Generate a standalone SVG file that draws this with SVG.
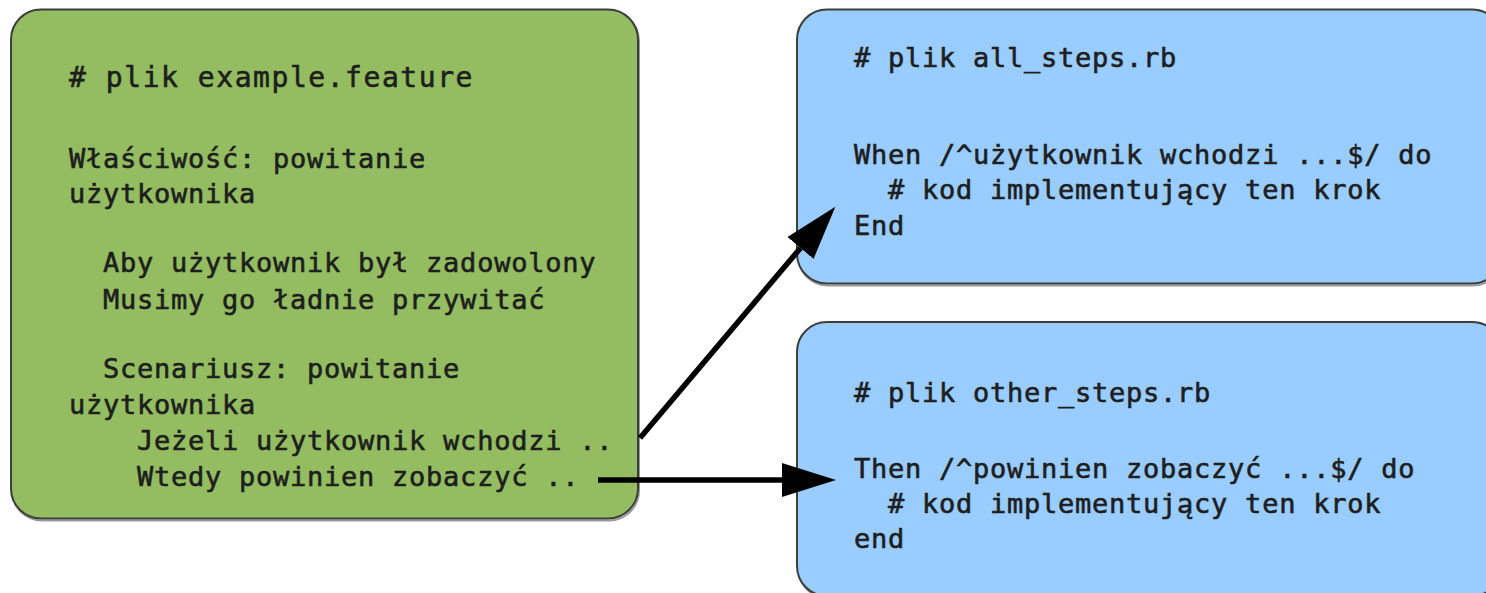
<svg xmlns="http://www.w3.org/2000/svg" width="1486" height="593" viewBox="0 0 1486 593">
  <style>
    .box { stroke: #3b3f3a; stroke-width: 2; }
    .shadow { fill: none; stroke: #9a9a9a; stroke-width: 2; }
    .feature { fill: #93bd60; }
    .steps { fill: #99ccff; }
    .code { font-family: "DejaVu Sans Mono", "Liberation Mono", monospace; font-size: 27px; letter-spacing: 0.75px; fill: #1e1e1e; stroke: #1e1e1e; stroke-width: 0.6px; white-space: pre; }
    .title { font-size: 28px; letter-spacing: 1.55px; }
    .link { stroke: #000000; stroke-width: 5.5; fill: none; marker-end: url(#head); }
  </style>
  <defs>
    <marker id="head" markerUnits="userSpaceOnUse" markerWidth="54" markerHeight="36" refX="0" refY="18" orient="auto" viewBox="0 0 54 36">
      <path d="M0,1 L54,18 L0,35 Z" fill="#000000"/>
    </marker>
  </defs>

  <rect width="1486" height="593" fill="#ffffff"/>

  <!-- feature file -->
  <g id="feature-file">
    <rect class="shadow" x="12" y="11.5" width="627" height="509" rx="30" ry="30"/>
    <rect class="box feature" x="11" y="9.5" width="627" height="509" rx="30" ry="30"/>
    <text class="code" xml:space="preserve">
      <tspan class="title" x="69" y="87"># plik example.feature</tspan>
      <tspan x="69" y="168">Właściwość: powitanie</tspan>
      <tspan x="69" y="203">użytkownika</tspan>
      <tspan x="69" y="272">  Aby użytkownik był zadowolony</tspan>
      <tspan x="69" y="309">  Musimy go ładnie przywitać</tspan>
      <tspan x="69" y="378">  Scenariusz: powitanie</tspan>
      <tspan x="69" y="414">użytkownika</tspan>
      <tspan x="69" y="450">    Jeżeli użytkownik wchodzi ..</tspan>
      <tspan x="69" y="486">    Wtedy powinien zobaczyć ..</tspan>
    </text>
  </g>

  <!-- step definitions: all_steps.rb -->
  <g id="all-steps">
    <rect class="shadow" x="798" y="11.5" width="705" height="274" rx="30" ry="30"/>
    <rect class="box steps" x="797" y="9.5" width="705" height="274" rx="30" ry="30"/>
    <text class="code" xml:space="preserve">
      <tspan x="854" y="67"># plik all_steps.rb</tspan>
      <tspan x="854" y="164">When /^użytkownik wchodzi ...$/ do</tspan>
      <tspan x="854" y="199">  # kod implementujący ten krok</tspan>
      <tspan x="854" y="235">End</tspan>
    </text>
  </g>

  <!-- step definitions: other_steps.rb -->
  <g id="other-steps">
    <rect class="shadow" x="798" y="324" width="705" height="274" rx="30" ry="30"/>
    <rect class="box steps" x="797" y="322" width="705" height="274" rx="30" ry="30"/>
    <text class="code" xml:space="preserve">
      <tspan x="854" y="402"># plik other_steps.rb</tspan>
      <tspan x="854" y="478">Then /^powinien zobaczyć ...$/ do</tspan>
      <tspan x="854" y="513">  # kod implementujący ten krok</tspan>
      <tspan x="854" y="548">end</tspan>
    </text>
  </g>

  <!-- step-to-definition links -->
  <g id="connectors">
    <line class="link" x1="640" y1="438" x2="800.5" y2="248"/>
    <line class="link" x1="598" y1="480" x2="782" y2="480"/>
  </g>
</svg>
